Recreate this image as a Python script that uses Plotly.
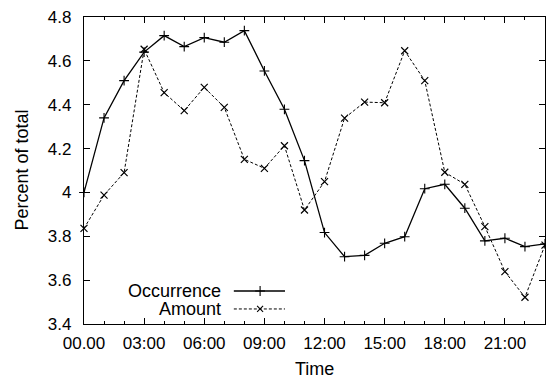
import plotly.graph_objects as go

hours = list(range(24))
occurrence = [4.00, 4.34, 4.51, 4.64, 4.715, 4.665, 4.706, 4.685, 4.738, 4.554,
              4.379, 4.145, 3.817, 3.707, 3.713, 3.768, 3.798, 4.017, 4.037, 3.928,
              3.779, 3.791, 3.753, 3.765]
amount = [3.836, 3.988, 4.090, 4.653, 4.455, 4.373, 4.479, 4.388, 4.151, 4.110,
          4.213, 3.920, 4.049, 4.339, 4.412, 4.409, 4.646, 4.510, 4.092, 4.037,
          3.844, 3.639, 3.522, 3.760]
x_tickvals = [0, 3, 6, 9, 12, 15, 18, 21]
x_ticktext = ["00.00", "03:00", "06:00", "09:00", "12:00", "15:00", "18:00", "21:00"]
y_tickvals = [3.4, 3.6, 3.8, 4.0, 4.2, 4.4, 4.6, 4.8]
y_ticktext = ["3.4", "3.6", "3.8", "4", "4.2", "4.4", "4.6", "4.8"]
legend_names = ["Occurrence", "Amount"]

FONT = "Liberation Sans, Arial, Helvetica, sans-serif"

fig = go.Figure()
fig.add_trace(go.Scatter(
    x=hours, y=occurrence, mode="lines+markers", name=legend_names[0],
    line=dict(color="black", width=1.3),
    marker=dict(symbol="cross-thin", size=7, line=dict(color="black", width=1.1)),
    cliponaxis=False, showlegend=False))
fig.add_trace(go.Scatter(
    x=hours, y=amount, mode="lines+markers", name=legend_names[1],
    line=dict(color="black", width=1, dash="3px,2px"),
    marker=dict(symbol="x-thin", size=7, line=dict(color="black", width=1.2)),
    cliponaxis=False, showlegend=False))

# Legend samples on an overlay axis in 0..1 coordinates
leg_y = [0.1075, 0.049]
fig.add_trace(go.Scatter(x=[0.325, 0.436], y=[leg_y[0]] * 2, mode="lines",
                         line=dict(color="black", width=1.3), xaxis="x2", yaxis="y2",
                         showlegend=False, hoverinfo="skip"))
fig.add_trace(go.Scatter(x=[0.382], y=[leg_y[0]], mode="markers",
                         marker=dict(symbol="cross-thin", size=7, line=dict(color="black", width=1.1)),
                         xaxis="x2", yaxis="y2", showlegend=False, hoverinfo="skip"))
fig.add_trace(go.Scatter(x=[0.325, 0.436], y=[leg_y[1]] * 2, mode="lines",
                         line=dict(color="black", width=1, dash="3px,2px"), xaxis="x2", yaxis="y2",
                         showlegend=False, hoverinfo="skip"))
fig.add_trace(go.Scatter(x=[0.382], y=[leg_y[1]], mode="markers",
                         marker=dict(symbol="x-thin", size=6, line=dict(color="black", width=1.1)),
                         xaxis="x2", yaxis="y2", showlegend=False, hoverinfo="skip"))
for name, yy in zip(legend_names, leg_y):
    fig.add_annotation(x=0.299, y=yy, xref="x2", yref="y2", text=name, showarrow=False,
                       xanchor="right", yanchor="middle", borderpad=0,
                       font=dict(size=18, color="black", family=FONT))

# Axis titles
fig.add_annotation(x=0.5, y=0, xref="paper", yref="paper", yshift=-45, text="Time",
                   showarrow=False, xanchor="center", yanchor="middle", borderpad=0,
                   font=dict(size=18, color="black", family=FONT))
fig.add_annotation(x=0, y=0.5, xref="paper", yref="paper", xshift=-63, text="Percent of total",
                   textangle=-90, showarrow=False, xanchor="center", yanchor="middle",
                   font=dict(size=18, color="black", family=FONT))

fig.update_layout(
    width=546, height=379,
    margin=dict(l=84, r=1, t=17, b=55),
    paper_bgcolor="white", plot_bgcolor="white",
    font=dict(family=FONT, size=17, color="black"),
    xaxis=dict(range=[0, 23], tickvals=x_tickvals, ticktext=x_ticktext,
               ticks="inside", ticklen=6, tickwidth=1, tickcolor="black",
               minor=dict(dtick=1, ticks="inside", ticklen=3, tickcolor="black", showgrid=False),
               showline=True, linecolor="black", linewidth=1.2, mirror="ticks",
               showgrid=False, zeroline=False, ticklabelstandoff=3, automargin=False,
               tickfont=dict(size=17)),
    yaxis=dict(range=[3.4, 4.8], tickvals=y_tickvals, ticktext=y_ticktext,
               ticks="inside", ticklen=6, tickwidth=1, tickcolor="black",
               showline=True, linecolor="black", linewidth=1.2, mirror="ticks",
               showgrid=False, zeroline=False, ticklabelstandoff=8, automargin=False,
               tickfont=dict(size=17)),
    xaxis2=dict(range=[0, 1], overlaying="x", visible=False, fixedrange=True),
    yaxis2=dict(range=[0, 1], overlaying="y", visible=False, fixedrange=True),
)

fig.write_html("out.html", config={"displayModeBar": False},
               post_script="document.body.style.margin='0px';document.body.style.overflow='hidden';")
